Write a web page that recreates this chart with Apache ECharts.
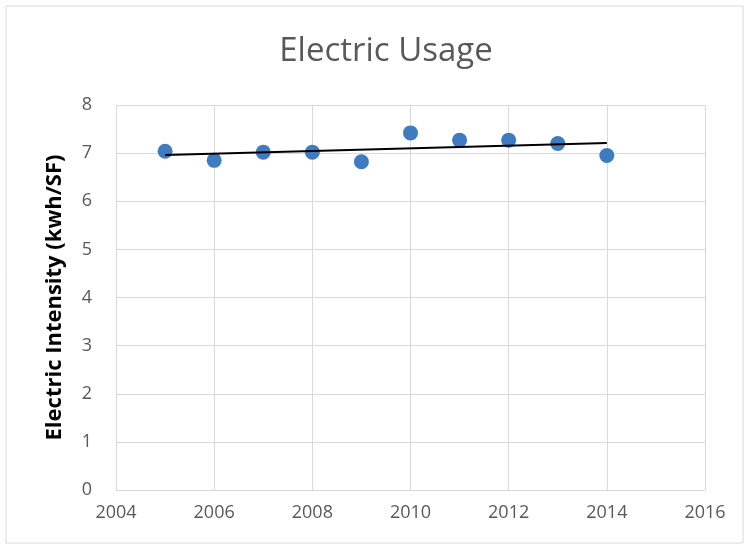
<!DOCTYPE html>
<html style="height: 100%">
<head>
    <meta charset="utf-8">
    <title>Electric Usage</title>
    <script src="https://cdn.jsdelivr.net/npm/echarts@6/dist/echarts.min.js"></script>
</head>
<body style="height: 100%; margin: 0; background: #fff">
    <div id="container" style="width: 750px; height: 550px"></div>
    <script type="text/javascript">
        // values
        const years = [2005, 2006, 2007, 2008, 2009, 2010, 2011, 2012, 2013, 2014];
        const intensity = [7.04, 6.85, 7.02, 7.02, 6.82, 7.42, 7.27, 7.27, 7.20, 6.95];
        // linear trend line end points
        const trendYears = [2005, 2014];
        const trendValues = [6.96, 7.21];

        const points = years.map((y, i) => [y, intensity[i]]);
        const trend = trendYears.map((y, i) => [y, trendValues[i]]);

        let chart = echarts.init(document.getElementById('container'));
        chart.setOption({
            backgroundColor: '#fff',
            textStyle: { fontFamily: 'Open Sans' },
            graphic: [{
                type: 'rect',
                shape: { x: 6, y: 6, width: 737, height: 537 },
                style: { fill: 'none', stroke: '#d9d9d9', lineWidth: 1 }
            }],
            title: {
                text: 'Electric Usage',
                left: 381,
                textAlign: 'center',
                top: 30,
                textStyle: { fontSize: 33, fontWeight: 'normal', color: '#595959', fontFamily: 'Open Sans' }
            },
            grid: { left: 116, right: 45, top: 105, bottom: 60 },
            xAxis: {
                type: 'value',
                min: 2004, max: 2016, interval: 2,
                axisLine: { show: true, lineStyle: { color: '#d9d9d9', width: 1 } },
                axisTick: { show: false },
                axisLabel: { color: '#595959', fontSize: 18, margin: 14, formatter: v => String(v) },
                splitLine: { show: true, lineStyle: { color: '#d9d9d9', width: 1 } }
            },
            yAxis: {
                type: 'value',
                min: 0, max: 8, interval: 1,
                name: 'Electric Intensity (kwh/SF)',
                nameLocation: 'middle',
                nameGap: 50,
                nameTextStyle: { color: '#000', fontSize: 22, fontWeight: 'bold' },
                axisLine: { show: false },
                axisTick: { show: false },
                axisLabel: { color: '#595959', fontSize: 18, margin: 24 },
                splitLine: { show: true, lineStyle: { color: '#d9d9d9', width: 1 } }
            },
            series: [
                {
                    type: 'scatter',
                    data: points,
                    symbolSize: 15,
                    itemStyle: { color: '#3F7BC0', opacity: 1 },
                    z: 2
                },
                {
                    type: 'line',
                    data: trend,
                    symbol: 'none',
                    lineStyle: { color: '#000', width: 2 },
                    z: 3
                }
            ]
        });
    </script>
</body>
</html>
